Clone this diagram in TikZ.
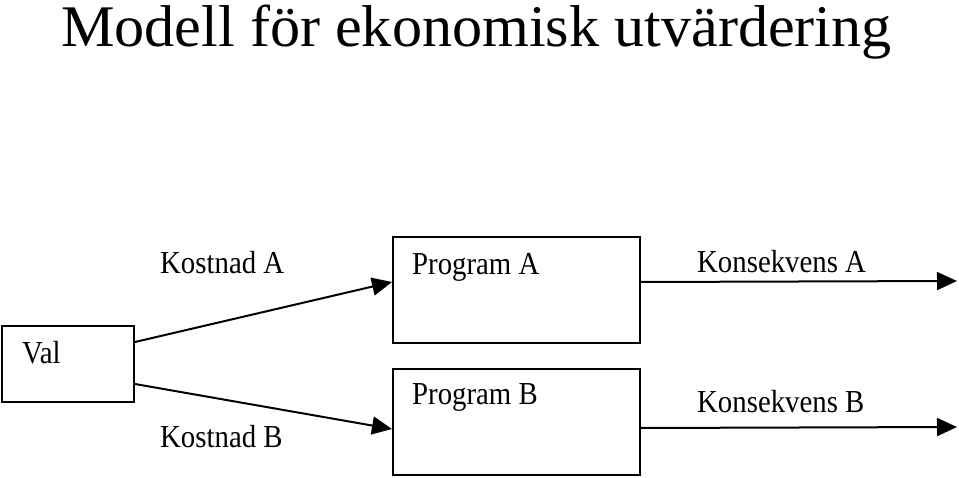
\documentclass[tikz,border=0pt]{standalone}
\usepackage{fontspec}
\setmainfont{Liberation Serif}
\newfontfamily\smalfont[FakeStretch=0.9]{Liberation Serif}
\newfontfamily\titelfont[FakeStretch=1.02]{Liberation Serif}
\usetikzlibrary{arrows.meta}
\tikzset{
  box/.style={draw, line width=2pt, anchor=north west, inner sep=0pt},
  lbl/.style={anchor=base west, inner sep=0pt, font=\smalfont\fontsize{32}{32}\selectfont},
  pil/.style={line width=2pt, -{Triangle[length=20pt,width=18pt]}}
}
\begin{document}
\begin{tikzpicture}[x=1pt,y=-1pt]
\useasboundingbox (0,0) rectangle (959,478);
\node[anchor=base west, inner sep=0pt, text height=40pt, text depth=13pt, font=\titelfont\fontsize{59}{60}\selectfont] (titel) at (61,47){Modell för ekonomisk utvärdering};
\node[box, minimum width=132pt, minimum height=76pt] (val) at (1,325){};
\node[lbl] (valtxt) at (22,364){Val};
\node[box, minimum width=247pt, minimum height=106pt] (progA) at (392,236){};
\node[lbl] (progAtxt) at (412,275){Program A};
\node[box, minimum width=247pt, minimum height=106pt] (progB) at (392,368){};
\node[lbl] (progBtxt) at (412,405){Program B};
\node[lbl] (kostA) at (160,274){Kostnad A};
\node[lbl] (kostB) at (160,447){Kostnad B};
\node[lbl] (konsA) at (697,273){Konsekvens A};
\node[lbl] (konsB) at (697,413){Konsekvens B};
\coordinate (utA) at (957,281);
\coordinate (utB) at (957,427);
\draw[pil]([yshift=22pt]val.east) -- ([yshift=8pt]progA.west);
\draw[pil]([yshift=-20pt]val.east) -- ([yshift=-7pt]progB.west);
\draw[pil]([yshift=8pt]progA.east) -- (utA);
\draw[pil]([yshift=-6pt]progB.east) -- (utB);

\end{tikzpicture}
\end{document}
